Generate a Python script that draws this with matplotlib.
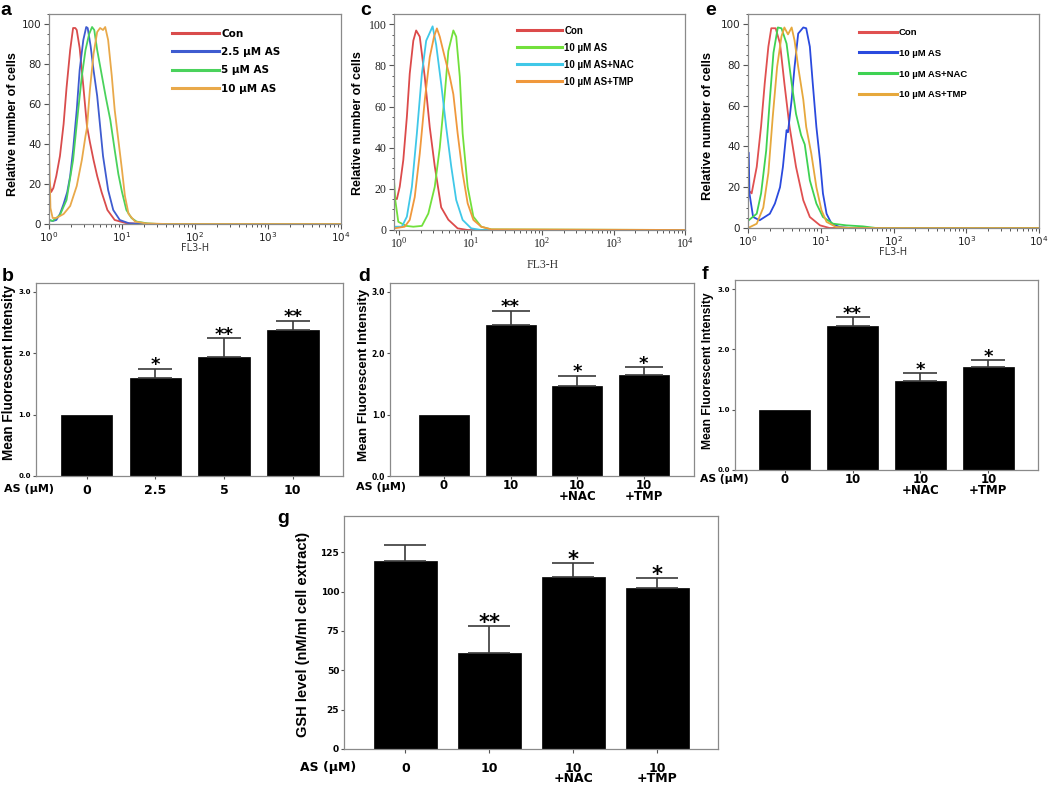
import numpy as np
import matplotlib
matplotlib.use('Agg')
import matplotlib.pyplot as plt
from matplotlib.lines import Line2D
from matplotlib.ticker import AutoMinorLocator, FormatStrFormatter
from matplotlib import font_manager

plt.rcParams['font.family'] = 'DejaVu Sans'

# ---------------- data ----------------
# histograms: x = log10(FL3-H), y = relative number of cells
A_LABELS = ['Con', '2.5 \u00b5M AS', '5 \u00b5M AS', '10 \u00b5M AS']
A_CON_X = [0.0, 0.03, 0.06, 0.10, 0.15, 0.20, 0.24, 0.29, 0.33, 0.36, 0.38, 0.42, 0.47, 0.52, 0.56, 0.61, 0.66, 0.72, 0.80, 0.90, 1.05, 1.3, 4.0]
A_CON_Y = [22, 16, 18, 24, 34, 50, 68, 87, 98, 98, 97, 88, 69, 49, 41, 32, 24, 16, 7, 2, 0.5, 0, 0]
A_25_X = [0.0, 0.05, 0.10, 0.15, 0.20, 0.25, 0.29, 0.33, 0.38, 0.42, 0.47, 0.51, 0.53, 0.57, 0.61, 0.66, 0.70, 0.74, 0.81, 0.88, 0.97, 1.1, 1.3, 4.0]
A_25_Y = [2, 1.5, 2, 5, 10, 16, 24, 37, 57, 77, 92, 98.5, 98, 89, 77, 64, 49, 34, 17, 7, 2, 0.3, 0, 0]
A_5_X = [0.0, 0.05, 0.15, 0.24, 0.33, 0.40, 0.45, 0.50, 0.55, 0.59, 0.62, 0.66, 0.72, 0.78, 0.84, 0.90, 0.95, 1.0, 1.06, 1.13, 1.2, 1.35, 1.5, 4.0]
A_5_Y = [2, 1.5, 4.5, 12, 32, 57, 74, 87, 95, 98.5, 97, 87, 75, 63, 52, 37, 25, 16, 7, 3, 1.2, 0.3, 0, 0]
A_10_X = [0.0, 0.02, 0.05, 0.10, 0.20, 0.29, 0.38, 0.45, 0.50, 0.52, 0.56, 0.61, 0.66, 0.70, 0.74, 0.77, 0.81, 0.86, 0.90, 0.95, 1.0, 1.04, 1.09, 1.18, 1.33, 1.6, 4.0]
A_10_Y = [37, 8, 3, 3, 5, 9, 19, 32, 44, 48, 67, 85, 96, 98, 97, 98.5, 92, 74, 57, 42, 27, 14, 5, 1.2, 0.3, 0, 0]

C_LABELS = ['Con', '10 \u00b5M AS', '10 \u00b5M AS+NAC', '10 \u00b5M AS+TMP']
C_CON_X = [-0.07, -0.03, 0.01, 0.06, 0.11, 0.15, 0.20, 0.24, 0.29, 0.36, 0.43, 0.50, 0.59, 0.69, 0.82, 0.96, 4.0]
C_CON_Y = [16, 15, 21, 34, 55, 76, 92, 97, 94, 74.5, 50, 31, 11, 5, 0.8, 0, 0]
C_AS_X = [-0.07, -0.05, -0.01, 0.10, 0.20, 0.32, 0.41, 0.50, 0.57, 0.64, 0.69, 0.76, 0.80, 0.85, 0.89, 0.96, 1.04, 1.15, 1.29, 4.0]
C_AS_Y = [24, 14, 4, 2, 1.6, 2, 8, 21, 40, 66, 87, 97, 94, 74.5, 47, 21, 6.5, 1.6, 0.3, 0]
C_NAC_X = [-0.07, 0.04, 0.11, 0.18, 0.25, 0.32, 0.38, 0.47, 0.52, 0.59, 0.66, 0.73, 0.80, 0.89, 1.01, 1.15, 4.0]
C_NAC_Y = [1.6, 1.6, 6.5, 21, 47, 76, 92, 99, 90, 71, 50, 31, 14.6, 4.9, 0.8, 0, 0]
C_TMP_X = [-0.07, 0.08, 0.15, 0.22, 0.29, 0.36, 0.43, 0.49, 0.53, 0.57, 0.64, 0.71, 0.76, 0.82, 0.89, 0.96, 1.04, 1.15, 1.29, 4.0]
C_TMP_Y = [0.8, 1.6, 4.9, 16, 37, 63, 84, 94, 98, 94, 84, 74.5, 66, 47, 27.6, 13, 4.9, 1.6, 0.3, 0]

E_LABELS = ['Con', '10 \u00b5M AS', '10 \u00b5M AS+NAC', '10 \u00b5M AS+TMP']
E_CON_X = [0.02, 0.05, 0.12, 0.18, 0.23, 0.28, 0.32, 0.38, 0.44, 0.50, 0.57, 0.66, 0.76, 0.85, 0.99, 1.12, 4.0]
E_CON_Y = [18, 17, 30, 50, 71, 89, 98, 98, 90.5, 71, 50, 30, 13.6, 5.4, 1.3, 0, 0]
E_AS_X = [0.0, 0.01, 0.02, 0.07, 0.16, 0.23, 0.30, 0.37, 0.44, 0.48, 0.53, 0.55, 0.60, 0.64, 0.69, 0.76, 0.80, 0.85, 0.89, 0.94, 0.99, 1.03, 1.08, 1.15, 1.26, 1.40, 4.0]
E_AS_Y = [37, 37, 17, 5.4, 3.8, 5.4, 7, 12, 20, 30, 48, 47, 63, 79, 95.4, 98.4, 98, 89, 71, 49.6, 33, 17, 7, 2, 0.5, 0, 0]
E_NAC_X = [0.01, 0.12, 0.18, 0.25, 0.30, 0.35, 0.41, 0.46, 0.53, 0.60, 0.66, 0.73, 0.78, 0.85, 0.94, 1.03, 1.17, 1.35, 1.58, 1.76, 4.0]
E_NAC_Y = [3.8, 7, 17, 38, 63, 86, 98.4, 98, 90.5, 71, 56, 45.5, 41, 23.4, 12, 5.4, 2.1, 1.3, 0.8, 0, 0]
E_TMP_X = [0.0, 0.12, 0.21, 0.28, 0.34, 0.40, 0.46, 0.50, 0.55, 0.60, 0.64, 0.69, 0.76, 0.80, 0.87, 0.94, 1.01, 1.08, 1.21, 1.40, 4.0]
E_TMP_Y = [0, 2.1, 10, 27, 54.5, 79, 94, 98.4, 95, 98.4, 92, 79, 63, 49.6, 36.5, 20, 8.7, 3, 0.5, 0, 0]

HIST_YTICKS = [0, 20, 40, 60, 80, 100]

# bar charts
B_LABELS = ['0', '2.5', '5', '10']
B_MEAN = [1.0, 1.60, 1.93, 2.37]
B_ERR = [0, 0.14, 0.31, 0.15]
B_SIG = ['', '*', '**', '**']

D_LABELS = ['0', '10', '10\n+NAC', '10\n+TMP']
D_MEAN = [1.0, 2.45, 1.46, 1.65]
D_ERR = [0, 0.24, 0.17, 0.12]
D_SIG = ['', '**', '*', '*']

F_LABELS = ['0', '10', '10\n+NAC', '10\n+TMP']
F_MEAN = [1.0, 2.38, 1.48, 1.70]
F_ERR = [0, 0.15, 0.12, 0.12]
F_SIG = ['', '**', '*', '*']

G_LABELS = ['0', '10', '10\n+NAC', '10\n+TMP']
G_MEAN = [119.3, 60.7, 109.1, 102.0]
G_ERR = [10.5, 17.3, 9.1, 6.7]
G_SIG = ['', '**', '*', '*']

MFI_YTICKS = [0, 1, 2, 3]
GSH_YTICKS = [0, 25, 50, 75, 100, 125]

# ---------------- fonts ----------------
_names = {f.name for f in font_manager.fontManager.ttflist}
if 'Liberation Sans Narrow' in _names:
    NARROW = 'Liberation Sans Narrow'
    NSCALE = 1.0
else:
    NARROW = 'Liberation Sans'
    NSCALE = 0.82

# ---------------- figure ----------------
W, H = 1050, 785
fig = plt.figure(figsize=(10.5, 7.85), dpi=100)


def box(x0, y0, x1, y1):
    return [x0 / W, 1 - y1 / H, (x1 - x0) / W, (y1 - y0) / H]


def ftext(x, y, s, **kw):
    return fig.text(x / W, 1 - y / H, s, **kw)


FRAME = '#8a8a8a'


def hist_panel(rect, xlim, curves, colors, labels, leg_xy, leg_font, leg_size,
               leg_hlen, leg_space, tick_family, tick_size):
    ax = fig.add_axes(box(*rect))
    for (xs, ys), c in zip(curves, colors):
        ax.plot(np.power(10.0, xs), ys, color=c, lw=1.3, solid_joinstyle='round')
    ax.set_xscale('log')
    ax.set_xlim(10 ** xlim[0], 10 ** xlim[1])
    ax.set_ylim(0, 105)
    ax.set_yticks(HIST_YTICKS)
    ax.yaxis.set_minor_locator(AutoMinorLocator(4))
    for s in ax.spines.values():
        s.set_color(FRAME)
        s.set_linewidth(0.9)
    ax.tick_params(which='major', direction='out', length=3.5, width=0.8, color='#555555',
                   labelsize=tick_size, labelcolor='#222222', labelfontfamily=tick_family, pad=2)
    ax.tick_params(axis='x', which='major', pad=1)
    ax.tick_params(which='minor', direction='out', length=1.8, width=0.7, color='#555555')
    handles = [Line2D([], [], color=c, lw=2.2) for c in colors]
    ax.legend(handles, labels, loc='upper left', bbox_to_anchor=leg_xy, frameon=False,
              borderpad=0, borderaxespad=0, handlelength=leg_hlen, handletextpad=0.25,
              labelspacing=leg_space,
              prop=dict(family=leg_font, weight='bold', size=leg_size))
    return ax


def bar_panel(rect, xlim, ylim, labels, means, errs, sigs, yticks, yfmt, ysize,
              xsize, xlen, xpad, capsize, starsize, star_off):
    ax = fig.add_axes(box(*rect))
    x = np.arange(len(means))
    means = np.array(means, dtype=float)
    errs = np.array(errs, dtype=float)
    ax.bar(x, means, width=0.75, color='black', edgecolor='black', linewidth=0.5, zorder=2)
    m = errs > 0
    ax.errorbar(x[m], means[m], yerr=[np.zeros(m.sum()), errs[m]], fmt='none',
                ecolor='#3a3a3a', elinewidth=1.2, capsize=capsize, capthick=1.2, zorder=3)
    for xi, mi, ei, s in zip(x, means, errs, sigs):
        if s:
            ax.annotate(s, (xi, mi + ei), xytext=(0, star_off), textcoords='offset points',
                        ha='center', va='baseline', fontsize=starsize, fontweight='bold')
    ax.set_xlim(*xlim)
    ax.set_ylim(*ylim)
    ax.set_yticks(yticks)
    ax.yaxis.set_major_formatter(FormatStrFormatter(yfmt))
    ax.set_xticks(x, labels)
    for t in ax.get_xticklabels():
        t.set_linespacing(0.8)
    for s in ax.spines.values():
        s.set_color(FRAME)
        s.set_linewidth(0.9)
    ax.tick_params(axis='y', direction='out', length=2.5, width=0.8, color='#555555',
                   labelsize=ysize, pad=1)
    for t in ax.get_yticklabels():
        t.set_fontweight('bold')
    ax.tick_params(axis='x', direction='out', length=xlen, width=0.8, color='#555555',
                   labelsize=xsize, pad=xpad)
    for t in ax.get_xticklabels():
        t.set_fontweight('bold')
    return ax


# panel a
ax_a = hist_panel((49, 14, 341, 224), (0, 4),
                  [(A_CON_X, A_CON_Y), (A_25_X, A_25_Y), (A_5_X, A_5_Y), (A_10_X, A_10_Y)],
                  ['#d94c4c', '#3f5cd0', '#4ad25c', '#e9a94a'], A_LABELS,
                  (0.421, 0.93), 'DejaVu Sans', 7.5, 4.5, 0.8, 'DejaVu Sans', 7.5)
ftext(195, 248, 'FL3-H', ha='center', va='center', fontsize=7, color='#333333')

# panel c
ax_c = hist_panel((394, 14, 685, 230), (-0.07, 4.0),
                  [(C_CON_X, C_CON_Y), (C_AS_X, C_AS_Y), (C_NAC_X, C_NAC_Y), (C_TMP_X, C_TMP_Y)],
                  ['#dc4a4a', '#72e03c', '#40c8e8', '#f0983c'], C_LABELS,
                  (0.423, 0.945), 'Liberation Sans', 7, 4.6, 0.72, 'Liberation Serif', 8.5)
ftext(543, 265, 'FL3-H', ha='center', va='center', fontsize=8.5, color='#333333',
      family='Liberation Serif')

# panel e
ax_e = hist_panel((748, 14, 1039, 228), (0, 4),
                  [(E_CON_X, E_CON_Y), (E_AS_X, E_AS_Y), (E_NAC_X, E_NAC_Y), (E_TMP_X, E_TMP_Y)],
                  ['#e05050', '#2a4ade', '#3ed252', '#e6a83c'], E_LABELS,
                  (0.381, 0.935), 'Liberation Sans', 6.8, 4.0, 1.25, 'DejaVu Sans', 7.5)
ftext(893, 252, 'FL3-H', ha='center', va='center', fontsize=7, color='#333333')

# panel b
ax_b = bar_panel((36, 283, 343, 476), (-0.735, 3.73), (0, 3.14), B_LABELS, B_MEAN, B_ERR,
                 B_SIG, MFI_YTICKS, '%.1f', 5, 9, 2.5, 3.5, 12, 13, -1)
# panel d
ax_d = bar_panel((390, 283, 694, 476), (-0.81, 3.755), (0, 3.14), D_LABELS, D_MEAN, D_ERR,
                 D_SIG, MFI_YTICKS, '%.1f', 5.5, 8.5, 2, 0.3, 14, 13, -1)
# panel f
ax_f = bar_panel((735, 280, 1038, 470), (-0.73, 3.73), (0, 3.15), F_LABELS, F_MEAN, F_ERR,
                 F_SIG, MFI_YTICKS, '%.1f', 5, 8.5, 2, 0.0, 12, 13, -1)
# panel g
ax_g = bar_panel((344, 516, 718, 749), (-0.73, 3.72), (0, 148), G_LABELS, G_MEAN, G_ERR,
                 G_SIG, GSH_YTICKS, '%d', 6.5, 9, 3, 6, 15, 15, -2)

# y labels
for (x, y, s, sz) in [(13, 124, 'Relative number of cells', 11),
                      (358, 123, 'Relative number of cells', 11),
                      (708, 126, 'Relative number of cells', 11.3),
                      (9.5, 373, 'Mean Fluorescent Intensity', 12),
                      (363.5, 375, 'Mean Fluorescent Intensity', 11.8),
                      (708, 371, 'Mean Fluorescent Intensity', 10.6)]:
    ftext(x, y, s, rotation=90, ha='center', va='center', fontsize=sz * NSCALE,
          fontweight='bold', family=NARROW)
ftext(303, 634, 'GSH level (nM/ml cell extract)', rotation=90, ha='center', va='center',
      fontsize=10.5, fontweight='bold', family='Liberation Sans')

# x axis captions
for (x, y, sz) in [(4, 489, 8), (356, 487, 8), (700, 479, 7.8), (300, 767, 9)]:
    ftext(x, y, 'AS (\u00b5M)', ha='left', va='center', fontsize=sz, fontweight='bold')

# panel letters
for (x, y, s) in [(0, 15, 'a'), (2, 281, 'b'), (360, 15, 'c'), (358, 281, 'd'),
                  (705, 15, 'e'), (702, 279, 'f'), (277, 523, 'g')]:
    ftext(x, y, s, ha='left', va='baseline', fontsize=14, fontweight='bold',
          family='Liberation Sans')

fig.savefig('out.png', dpi=100)
